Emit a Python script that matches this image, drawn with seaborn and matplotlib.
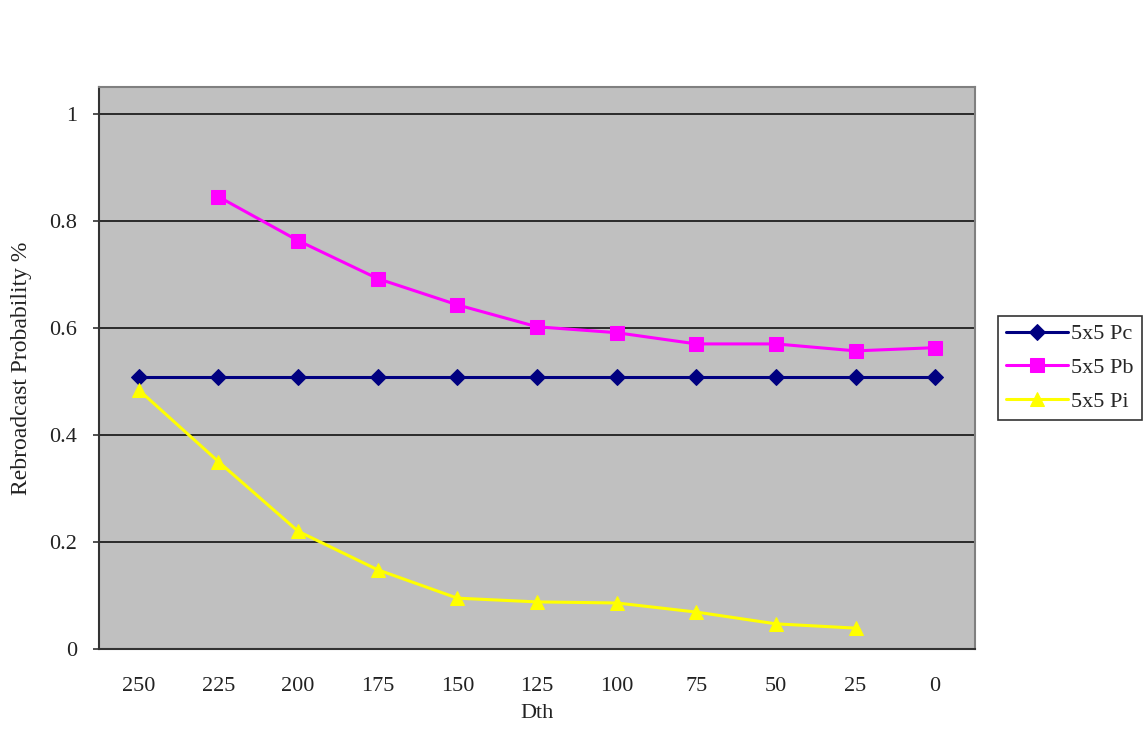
import numpy as np
import pandas as pd
import matplotlib
matplotlib.use("Agg")
import matplotlib.pyplot as plt
import seaborn as sns

# Threshold distance categories (drawn left to right)
dth = ["250", "225", "200", "175", "150", "125", "100", "75", "50", "25", "0"]

pc = [0.508, 0.508, 0.508, 0.508, 0.508, 0.508, 0.508, 0.508, 0.508, 0.508, 0.508]
pb = [np.nan, 0.845, 0.763, 0.692, 0.643, 0.602, 0.591, 0.570, 0.570, 0.557, 0.563]
pi = [0.484, 0.350, 0.220, 0.148, 0.095, 0.088, 0.086, 0.069, 0.047, 0.039, np.nan]

series_names = ["5x5 Pc", "5x5 Pb", "5x5 Pi"]
series_colors = ["#000080", "#FF00FF", "#FFFF00"]
series_markers = ["D", "s", "^"]
series_msize = [8, 9.5, 10]

sns.set_theme(style="white")
plt.rcParams["font.family"] = ["Liberation Serif", "DejaVu Serif"]

FS = 16
TXT = "#222222"

pos = np.arange(len(dth))
df = pd.DataFrame({"pos": np.tile(pos, 3),
                   "value": pc + pb + pi,
                   "series": np.repeat(series_names, len(dth))})

fig = plt.figure(figsize=(11.46, 7.37), dpi=100)
ax = fig.add_axes([99 / 1146, 1 - 649 / 737, (975 - 99) / 1146, (649 - 87) / 737])
ax.set_facecolor("#C0C0C0")

for name, col, mk, ms in zip(series_names, series_colors, series_markers, series_msize):
    sub = df[df["series"] == name].dropna()
    sns.lineplot(data=sub, x="pos", y="value", ax=ax, color=col, linewidth=2.2,
                 marker=mk, markersize=ms, markeredgecolor=col, label=name,
                 zorder=3)

ax.set_xlim(-0.5, len(dth) - 0.5)
ax.set_ylim(0, 1.05)
ax.set_xticks(pos)
ax.set_xticklabels(dth)
ax.set_xticks(np.arange(0.5, len(dth) - 0.5, 1), minor=True)
ax.tick_params(axis="x", which="major", length=0, pad=20, labelsize=FS, labelcolor=TXT)
ax.tick_params(axis="x", which="minor", length=6, width=1.2, color="#333333", direction="out")
ax.set_yticks([0, 0.2, 0.4, 0.6, 0.8, 1.0])
ax.set_yticklabels(["0", "0.2", "0.4", "0.6", "0.8", "1"])
ax.tick_params(axis="y", length=4, width=1.2, color="#333333", direction="out",
               pad=12, labelsize=FS, labelcolor=TXT, left=True)

ax.grid(False)
for yv in [0.2, 0.4, 0.6, 0.8, 1.0]:
    ax.axhline(yv, color="#111111", linewidth=1.2, zorder=1)

for side in ["left", "bottom"]:
    ax.spines[side].set_color("#333333")
    ax.spines[side].set_linewidth(1.5)
for side in ["top", "right"]:
    ax.spines[side].set_color("#808080")
    ax.spines[side].set_linewidth(1.5)

ax.set_xlabel("Dth", fontsize=FS, color=TXT, labelpad=6)
ax.set_ylabel("Rebroadcast Probability %", fontsize=FS + 1, color=TXT, labelpad=12)

leg = ax.legend(loc="upper left", bbox_to_anchor=(998 / 1146, 1 - 316 / 737),
                bbox_transform=fig.transFigure, frameon=True, fancybox=False,
                fontsize=FS, handlelength=2.8, borderpad=0.35, labelspacing=0.6,
                handletextpad=0.15, borderaxespad=0)
leg.get_frame().set_edgecolor("#000000")
leg.get_frame().set_linewidth(1.2)
leg.get_frame().set_facecolor("white")

fig.savefig("out.png", dpi=100, facecolor="white")
